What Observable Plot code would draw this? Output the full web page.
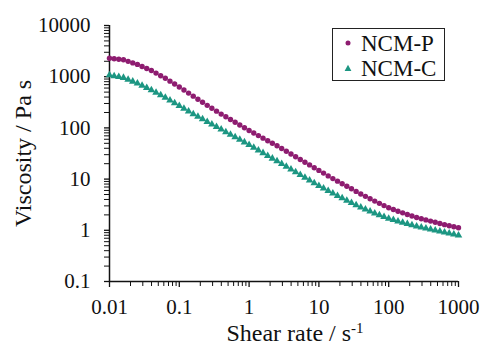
<!DOCTYPE html>
<html>
<head>
<meta charset="utf-8">
<script src="https://cdn.jsdelivr.net/npm/d3@7"></script>
<script src="https://cdn.jsdelivr.net/npm/@observablehq/plot@0.6"></script>
<style>
  html, body { margin: 0; padding: 0; background: #fff; }
  #wrap { position: relative; width: 482px; height: 350px; font-family: "Liberation Serif", "Times New Roman", Times, "DejaVu Serif", serif; color: #111; }
  #legend { position: absolute; left: 332px; top: 28px; width: 111px; height: 51px; border: 1.5px solid #222; background: #fff; }
  .row { position: absolute; left: 0; height: 25px; display: flex; align-items: center; font-size: 23px; line-height: 25px; }
  .row svg { margin-left: 11px; margin-right: 9px; }
  #xtitle { position: absolute; left: 0; width: 590px; text-align: center; top: 320px; font-size: 24px; line-height: 26px; white-space: nowrap; }
  #xtitle sup { font-size: 15px; vertical-align: 8px; line-height: 0; }
</style>
</head>
<body>
<div id="wrap"></div>
<script>
// Shear rate / s^-1 (measurement grid, 15 points per decade)
const shearRate = [
  0.01, 0.01166, 0.01359, 0.01585, 0.01848, 0.02154, 0.02512, 0.02929, 0.03415, 0.03981, 0.04642, 0.05412, 0.0631, 0.07356, 0.08577,
  0.1, 0.1166, 0.1359, 0.1585, 0.1848, 0.2154, 0.2512, 0.2929, 0.3415, 0.3981, 0.4642, 0.5412, 0.631, 0.7356, 0.8577,
  1, 1.166, 1.359, 1.585, 1.848, 2.154, 2.512, 2.929, 3.415, 3.981, 4.642, 5.412, 6.31, 7.356, 8.577,
  10, 11.66, 13.59, 15.85, 18.48, 21.54, 25.12, 29.29, 34.15, 39.81, 46.42, 54.12, 63.1, 73.56, 85.77,
  100, 116.6, 135.9, 158.5, 184.8, 215.4, 251.2, 292.9, 341.5, 398.1, 464.2, 541.2, 631, 735.6, 857.7,
  1000
];
// Viscosity / Pa s, NCM-P
const ncmP = [
  2290, 2240, 2190, 2140, 1995, 1862, 1738, 1585, 1445, 1318, 1175, 1047, 933, 819, 719,
  631, 549.5, 478.6, 416.9, 363.1, 316.2, 275.4, 241.5, 212.3, 186.2, 164.8, 145.5, 128.8, 114.0, 100.7,
  89.1, 79.4, 70.8, 63.1, 56.2, 50.1, 44.7, 39.5, 34.9, 30.9, 27.35, 24.15, 21.38, 18.92, 16.71,
  14.79, 13.09, 11.56, 10.23, 9.12, 8.13, 7.24, 6.46, 5.75, 5.13, 4.60, 4.14, 3.72, 3.36, 3.04,
  2.75, 2.55, 2.36, 2.19, 2.04, 1.905, 1.778, 1.686, 1.596, 1.514, 1.435, 1.358, 1.288, 1.230, 1.175,
  1.122
];
// Viscosity / Pa s, NCM-C
const ncmC = [
  1072, 1030, 993, 955, 877, 807, 741, 671, 607, 550, 490, 437, 389, 344, 304,
  269, 238, 210, 186.2, 166.0, 147.9, 131.8, 117.5, 104.7, 93.3, 83.2, 74.1, 66.1, 58.9, 52.5,
  46.8, 41.4, 36.6, 32.4, 28.6, 25.3, 22.4, 19.8, 17.5, 15.5, 13.7, 12.1, 10.7, 9.48, 8.38,
  7.41, 6.61, 5.89, 5.25, 4.71, 4.24, 3.80, 3.44, 3.11, 2.82, 2.57, 2.34, 2.14, 1.98, 1.83,
  1.70, 1.60, 1.50, 1.41, 1.34, 1.27, 1.20, 1.148, 1.096, 1.047, 1.00, 0.955, 0.912, 0.871, 0.832,
  0.794
];
const seriesNames = ["NCM-P", "NCM-C"];
const seriesColors = ["#8e1c70", "#1c9682"];
const xTicks = [0.01, 0.1, 1, 10, 100, 1000];
const yTicks = [0.1, 1, 10, 100, 1000, 10000];
const xTitle = "Shear rate / s";
const xTitleSup = "-1";
const yTitle = "Viscosity / Pa s";

const minorOf = (majors) => {
  const out = [];
  for (let i = 0; i < majors.length - 1; i++) for (let m = 2; m <= 9; m++) out.push(+(majors[i] * m).toPrecision(3));
  return out;
};
const xMinor = minorOf(xTicks);
const yMinor = minorOf(yTicks);

const dataP = shearRate.map((x, i) => ({x, v: ncmP[i], s: seriesNames[0]}));
const dataC = shearRate.map((x, i) => ({x, v: ncmC[i], s: seriesNames[1]}));

const FONT = "'Liberation Serif', 'Times New Roman', Times, 'DejaVu Serif', serif";

const chart = Plot.plot({
  width: 482, height: 350,
  marginLeft: 109, marginRight: 24, marginTop: 25, marginBottom: 69,
  style: {fontFamily: FONT, fontSize: "21px", color: "#111", background: "white", overflow: "visible"},
  x: {type: "log", domain: [0.01, 1000]},
  y: {type: "log", domain: [0.1, 10000]},
  marks: [
    Plot.axisY({ticks: yMinor, tickSize: 5, tickFormat: () => "", label: null, strokeWidth: 1}),
    Plot.axisY({ticks: yTicks, tickSize: 5, tickPadding: 14, tickFormat: d => String(d), label: null, strokeWidth: 1.3}),
    Plot.axisX({ticks: xMinor, tickSize: 5, tickFormat: () => "", label: null, strokeWidth: 1}),
    Plot.axisX({ticks: xTicks, tickSize: 6, tickPadding: 12, tickFormat: d => String(d), label: null, strokeWidth: 1.3}),
    Plot.ruleX([0.01], {y1: 0.1, y2: 10000, stroke: "#111", strokeWidth: 1.5}),
    Plot.ruleY([0.1], {x1: 0.01, x2: 1000, stroke: "#111", strokeWidth: 1.5}),
    Plot.dot(dataC, {x: "x", y: "v", symbol: "triangle", fill: seriesColors[1], r: 2.8}),
    Plot.dot(dataP, {x: "x", y: "v", symbol: "circle", fill: seriesColors[0], r: 2.7}),
    Plot.text([yTitle], {frameAnchor: "left", textAnchor: "middle", rotate: -90, dx: -86, fontSize: 24, fill: "#111"})
  ]
});

const wrap = document.getElementById("wrap");
wrap.appendChild(chart);

// x-axis title with superscript
const xt = document.createElement("div");
xt.id = "xtitle";
xt.innerHTML = xTitle + "<sup>" + xTitleSup + "</sup>";
wrap.appendChild(xt);

// legend
const legend = document.createElement("div");
legend.id = "legend";
seriesNames.forEach((name, i) => {
  const row = document.createElement("div");
  row.className = "row";
  row.style.top = (1.5 + i * 25) + "px";
  const sym = i === 0
    ? `<svg width="8" height="8"><circle cx="4" cy="4" r="2.5" fill="${seriesColors[i]}"/></svg>`
    : `<svg width="8" height="8"><path d="M4,0.8L7.4,7L0.6,7Z" fill="${seriesColors[i]}"/></svg>`;
  row.innerHTML = sym + "<span>" + name + "</span>";
  legend.appendChild(row);
});
wrap.appendChild(legend);
</script>
</body>
</html>
